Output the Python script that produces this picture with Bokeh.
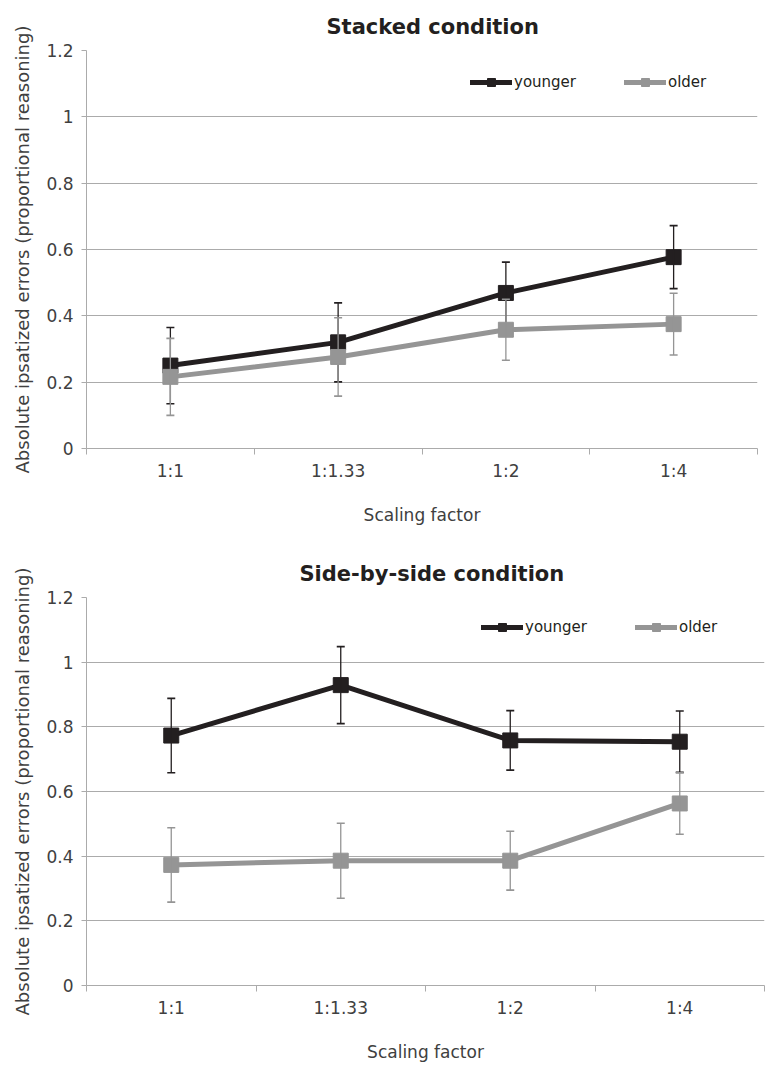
from bokeh.plotting import figure
from bokeh.layouts import column
from bokeh.models import (Range1d, FixedTicker, CustomJSTickFormatter, Legend,
                          LegendItem, ColumnDataSource)
from bokeh.embed import file_html
from bokeh.resources import INLINE

# ---------------- data ----------------
categories = ["1:1", "1:1.33", "1:2", "1:4"]
y_ticks = [0, 0.2, 0.4, 0.6, 0.8, 1.0, 1.2]

stacked_younger = [0.25, 0.32, 0.469, 0.577]
stacked_younger_err = [0.115, 0.119, 0.093, 0.095]
stacked_older = [0.216, 0.276, 0.358, 0.375]
stacked_older_err = [0.116, 0.118, 0.092, 0.093]

side_younger = [0.773, 0.929, 0.758, 0.754]
side_younger_err = [0.115, 0.119, 0.092, 0.095]
side_older = [0.373, 0.386, 0.386, 0.563]
side_older_err = [0.115, 0.116, 0.091, 0.095]

titles = ["Stacked condition", "Side-by-side condition"]
x_label = "Scaling factor"
y_label = "Absolute ipsatized errors (proportional reasoning)"
series_names = ["younger", "older"]

# ---------------- style ----------------
FONT = "DejaVu Sans"
YOUNG_C = "#231f20"
OLD_C = "#959595"
GRID_C = "#ababab"
TEXT_C = "#404040"


def make_fig(title, young, young_err, old, old_err, w, h, bl, br, bt, bb,
             title_offset, legend_loc):
    p = figure(width=w, height=h, output_backend="svg", toolbar_location=None,
               x_range=Range1d(0, len(categories)), y_range=Range1d(0, 1.2),
               min_border_left=bl, min_border_right=br, min_border_top=bt,
               min_border_bottom=bb)
    p.outline_line_color = None
    p.background_fill_color = "white"
    p.border_fill_color = "white"

    p.title.text = title
    p.title.text_font = FONT
    p.title.text_font_size = "21px"
    p.title.text_font_style = "bold"
    p.title.text_color = YOUNG_C
    p.title.align = "left"
    p.title.vertical_align = "top"
    p.title.text_line_height = 0.5
    p.title.offset = title_offset
    p.title.standoff = 20

    # y axis
    p.yaxis.ticker = FixedTicker(ticks=y_ticks)
    p.yaxis.formatter = CustomJSTickFormatter(
        code="return (Math.round(tick*10)/10).toString();")
    p.yaxis.axis_line_color = GRID_C
    p.yaxis.major_tick_line_color = GRID_C
    p.yaxis.major_tick_out = 5
    p.yaxis.major_tick_in = 0
    p.yaxis.minor_tick_line_color = None
    p.yaxis.major_label_text_font = FONT
    p.yaxis.major_label_text_font_size = "17px"
    p.yaxis.major_label_text_color = TEXT_C
    p.yaxis.major_label_standoff = 8
    p.yaxis.axis_label = y_label
    p.yaxis.axis_label_text_font = FONT
    p.yaxis.axis_label_text_font_size = "18px"
    p.yaxis.axis_label_text_font_style = "normal"
    p.yaxis.axis_label_text_color = TEXT_C
    p.yaxis.axis_label_standoff = 10

    # x axis (category bands, ticks at band edges)
    centers = [i + 0.5 for i in range(len(categories))]
    edges = list(range(len(categories) + 1))
    p.xaxis.ticker = FixedTicker(ticks=centers, minor_ticks=edges)
    p.xaxis.formatter = CustomJSTickFormatter(
        args=dict(cats=categories), code="return cats[Math.floor(tick)];")
    p.xaxis.axis_line_color = GRID_C
    p.xaxis.major_tick_line_color = None
    p.xaxis.major_tick_out = 0
    p.xaxis.major_tick_in = 0
    p.xaxis.minor_tick_line_color = GRID_C
    p.xaxis.minor_tick_out = 6
    p.xaxis.minor_tick_in = 0
    p.xaxis.major_label_text_font = FONT
    p.xaxis.major_label_text_font_size = "17px"
    p.xaxis.major_label_text_color = TEXT_C
    p.xaxis.major_label_standoff = 6
    p.xaxis.axis_label = x_label
    p.xaxis.axis_label_text_font = FONT
    p.xaxis.axis_label_text_font_size = "17px"
    p.xaxis.axis_label_text_font_style = "normal"
    p.xaxis.axis_label_text_color = TEXT_C
    p.xaxis.axis_label_standoff = 21

    p.xgrid.grid_line_color = None
    p.ygrid.ticker = FixedTicker(ticks=y_ticks)
    p.ygrid.grid_line_color = GRID_C
    p.ygrid.grid_line_width = 1

    items = []
    for name, vals, errs, col in [(series_names[0], young, young_err, YOUNG_C),
                                  (series_names[1], old, old_err, OLD_C)]:
        src = ColumnDataSource(dict(
            x=centers, y=vals,
            upper=[v + e for v, e in zip(vals, errs)],
            lower=[v - e for v, e in zip(vals, errs)]))
        line_r = p.line("x", "y", source=src, line_color=col, line_width=5,
                        line_join="round", line_cap="round")
        # small marker (hidden under the big one) used for the legend glyph
        small_r = p.scatter("x", "y", source=src, marker="square", size=8,
                            fill_color=col, line_color=col)
        p.scatter("x", "y", source=src, marker="square", size=15,
                  fill_color=col, line_color=col)
        p.segment("x", "lower", "x", "upper", source=src, line_color=col,
                  line_width=1.3)
        p.scatter("x", "upper", source=src, marker="dash", size=8,
                  line_color=col, line_width=1.6)
        p.scatter("x", "lower", source=src, marker="dash", size=8,
                  line_color=col, line_width=1.6)
        items.append(LegendItem(label=name, renderers=[line_r, small_r]))

    legend = Legend(items=items, orientation="horizontal", location=legend_loc,
                    glyph_width=42, glyph_height=20, label_standoff=2,
                    spacing=48, padding=0, margin=0,
                    border_line_color=None, background_fill_alpha=0,
                    label_text_font=FONT, label_text_font_size="15px",
                    label_text_color=YOUNG_C)
    p.add_layout(legend)
    return p


p1 = make_fig(titles[0], stacked_younger, stacked_younger_err,
              stacked_older, stacked_older_err,
              760, 545, 82, 3, 50, 97, 240, (384, 356))
p2 = make_fig(titles[1], side_younger, side_younger_err,
              side_older, side_older_err,
              767, 520, 86, 0, 52, 80, 213, (395, 348))

layout = column(p1, p2, spacing=0)
open("out.html", "w").write(file_html(layout, INLINE))
